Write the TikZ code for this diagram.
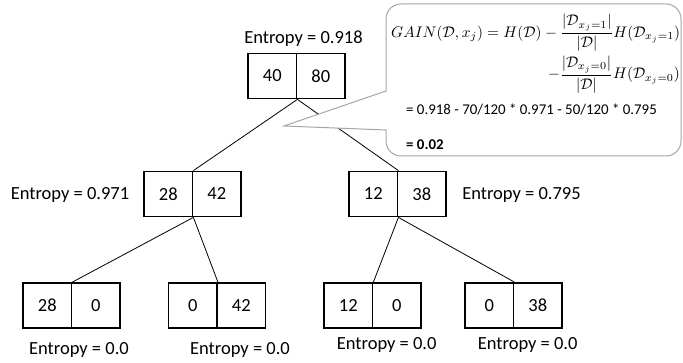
\documentclass[tikz,border=0pt]{standalone}
\usepackage[no-math]{fontspec}
\setmainfont{Carlito}
\usepackage{amsmath}
\usepackage{graphicx}
\tikzset{
  cell/.style={draw, line width=1.8pt, minimum width=48.5pt, minimum height=45pt, inner sep=0pt, font=\fontsize{18.5}{22}\selectfont},
  lbl/.style={inner sep=0pt, anchor=base, font=\fontsize{18.5}{22}\selectfont},
  edge/.style={line width=0.8pt},
  callout/.style={draw=black!35, fill=white, line width=1pt},
  ctext/.style={inner sep=0pt, anchor=base west, font=\fontsize{14.9}{18}\selectfont}
}
\newsavebox\gainA
\begin{document}
\sbox\gainA{$\displaystyle GAIN(\mathcal{D},x_j)=H(\mathcal{D})-\frac{|\mathcal{D}_{x_j=1}|}{|\mathcal{D}|}H(\mathcal{D}_{x_j=1})$}%
\pgfmathsetmacro\gs{289/\the\wd\gainA}%
\begin{tikzpicture}[x=1pt,y=1pt]
\useasboundingbox[fill=white] (0,0) rectangle (683,363);
% boxes (cells)
\node[cell] (rL) at (272.25,287) {40};
\node[cell] (rR) at (320.75,287) {80};
\node[cell] (mlL) at (168.25,169) {28};
\node[cell] (mlR) at (216.75,169) {42};
\node[cell] (mrL) at (373.25,169) {12};
\node[cell] (mrR) at (421.75,169) {38};
\node[cell] (b1L) at (47.25,57.5) {28};
\node[cell] (b1R) at (95.75,57.5) {0};
\node[cell] (b2L) at (192.75,57.5) {0};
\node[cell] (b2R) at (241.25,57.5) {42};
\node[cell] (b3L) at (348.25,57.5) {12};
\node[cell] (b3R) at (396.75,57.5) {0};
\node[cell] (b4L) at (489.25,57.5) {0};
\node[cell] (b4R) at (537.75,57.5) {38};
% connectors
\begin{scope}[on background layer/.style={}]
\draw[edge] (rL.south east) -- (mlL.north east);
\draw[edge] (rL.south east) -- (mrL.north east);
\draw[edge] (mlL.south east) -- (b1L.north east);
\draw[edge] (mlL.south east) -- (b2L.north east);
\draw[edge] (mrL.south east) -- (b3L.north east);
\draw[edge] (mrL.south east) -- (b4L.north east);
\end{scope}
% labels
\node[lbl] (e0) at (303.5,319) {Entropy = 0.918};
\node[lbl] (e1) at (70,163) {Entropy = 0.971};
\node[lbl] (e2) at (521.5,163) {Entropy = 0.795};
\node[lbl] (e3) at (79,8) {Entropy = 0.0};
\node[lbl] (e4) at (240,8) {Entropy = 0.0};
\node[lbl] (e5) at (386.7,13) {Entropy = 0.0};
\node[lbl] (e6) at (527.7,13) {Entropy = 0.0};
% callout
\coordinate (tip) at (284,237);
\draw[callout] (386,233) -- (tip) -- (386,272) -- (386,344) arc(180:90:15) -- (666,359) arc(90:0:15) -- (681,222) arc(0:-90:15) -- (401,207) arc(270:180:15) -- cycle;
\node[anchor=base west, inner sep=0pt] (f1) at (391,325.7) {\scalebox{\gs}{\usebox\gainA}};
\node[anchor=base east, inner sep=0pt] (f2) at (680,284) {\scalebox{\gs}{$\displaystyle -\frac{|\mathcal{D}_{x_j=0}|}{|\mathcal{D}|}H(\mathcal{D}_{x_j=0})$}};
\node[ctext] (c1) at (406,248) {= 0.918 - 70/120 * 0.971 - 50/120 * 0.795};
\node[ctext] (c2) at (406,213) {\bfseries = 0.02};
\end{tikzpicture}
\end{document}
